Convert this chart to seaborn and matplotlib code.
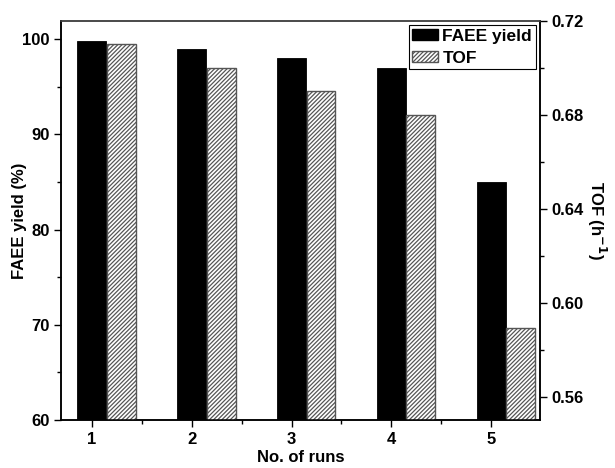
import matplotlib
matplotlib.use("Agg")
import matplotlib.pyplot as plt
import matplotlib.patches as mpatches
from matplotlib.ticker import MultipleLocator, FormatStrFormatter
import numpy as np
import seaborn as sns

# Catalyst reuse data
runs = [1, 2, 3, 4, 5]
faee_yield = [99.8, 99.0, 98.0, 97.0, 85.0]      # %
tof = [0.710, 0.700, 0.690, 0.680, 0.589]         # h^-1
run_labels = ["1", "2", "3", "4", "5"]

sns.set_style("ticks")
plt.rcParams["font.family"] = ["Liberation Sans", "DejaVu Sans"]
plt.rcParams["font.weight"] = "bold"
plt.rcParams["text.color"] = "black"
plt.rcParams["axes.labelcolor"] = "black"
plt.rcParams["xtick.color"] = "black"
plt.rcParams["ytick.color"] = "black"
plt.rcParams["hatch.linewidth"] = 0.9
plt.rcParams["hatch.color"] = "#222222"

FS = 12
HATCH = "////////"

fig = plt.figure(figsize=(6.15, 4.68), dpi=100)
ax = fig.add_axes([0.0992, 0.1026, 0.7789, 0.8526])
ax2 = ax.twinx()

bar_w = 0.29
offset = 0.295

sns.barplot(x=runs, y=faee_yield, native_scale=True, width=bar_w,
            color="black", saturation=1, edgecolor="black", linewidth=0.6,
            ax=ax)
sns.barplot(x=[r + offset for r in runs], y=tof, native_scale=True, width=bar_w,
            color="white", saturation=1, edgecolor="#555555", linewidth=1.0,
            hatch=HATCH, ax=ax2)

ax.set_xlim(0.69, 5.49)
ax.set_ylim(60, 101.9)
ax2.set_ylim(0.55, 0.72)

ax.set_xticks(runs)
ax.set_xticklabels(run_labels)
ax.xaxis.set_minor_locator(MultipleLocator(0.5))
ax.yaxis.set_major_locator(MultipleLocator(10))
ax.yaxis.set_minor_locator(MultipleLocator(5))
ax2.yaxis.set_major_locator(MultipleLocator(0.04))
ax2.yaxis.set_minor_locator(MultipleLocator(0.02))
ax2.yaxis.set_major_formatter(FormatStrFormatter("%.2f"))

for a in (ax, ax2):
    a.tick_params(which="major", direction="out", length=5, width=1.0,
                  labelsize=FS, colors="black", pad=3)
    a.tick_params(which="minor", direction="out", length=3, width=1.0)
    for lbl in a.get_xticklabels() + a.get_yticklabels():
        lbl.set_fontweight("bold")
ax.tick_params(axis="x", which="both", top=False, pad=4)
ax2.tick_params(axis="y", which="both", left=False, right=True)

for a in (ax, ax2):
    for side in ["left", "bottom", "top", "right"]:
        a.spines[side].set_visible(True)
        a.spines[side].set_color("black")
        a.spines[side].set_linewidth(1.1)
ax.spines["top"].set_color("#444444")
ax2.spines["top"].set_color("#444444")

ax.set_xlabel("No. of runs", fontsize=FS, fontweight="bold", labelpad=2,
              color="black")
ax.set_ylabel("FAEE yield (%)", fontsize=FS, fontweight="bold", labelpad=-3,
              color="black")
ax2.set_ylabel("TOF (h$^{\\mathbf{-1}}$)", fontsize=FS, fontweight="bold",
               rotation=270, labelpad=18, color="black")

handles = [
    mpatches.Patch(facecolor="black", edgecolor="black", label="FAEE yield"),
    mpatches.Patch(facecolor="white", edgecolor="#555555", hatch=HATCH, label="TOF"),
]
leg = ax2.legend(handles=handles, loc="upper right", bbox_to_anchor=(0.996, 0.996),
                 frameon=True, fancybox=False, framealpha=1, edgecolor="black",
                 prop={"weight": "bold", "size": 12.5}, handlelength=1.5,
                 handleheight=0.6, handletextpad=0.25, borderpad=0.2,
                 labelspacing=0.4, borderaxespad=0.15, labelcolor="black")
leg.get_frame().set_linewidth(0.8)

fig.savefig("out.png", dpi=100)
